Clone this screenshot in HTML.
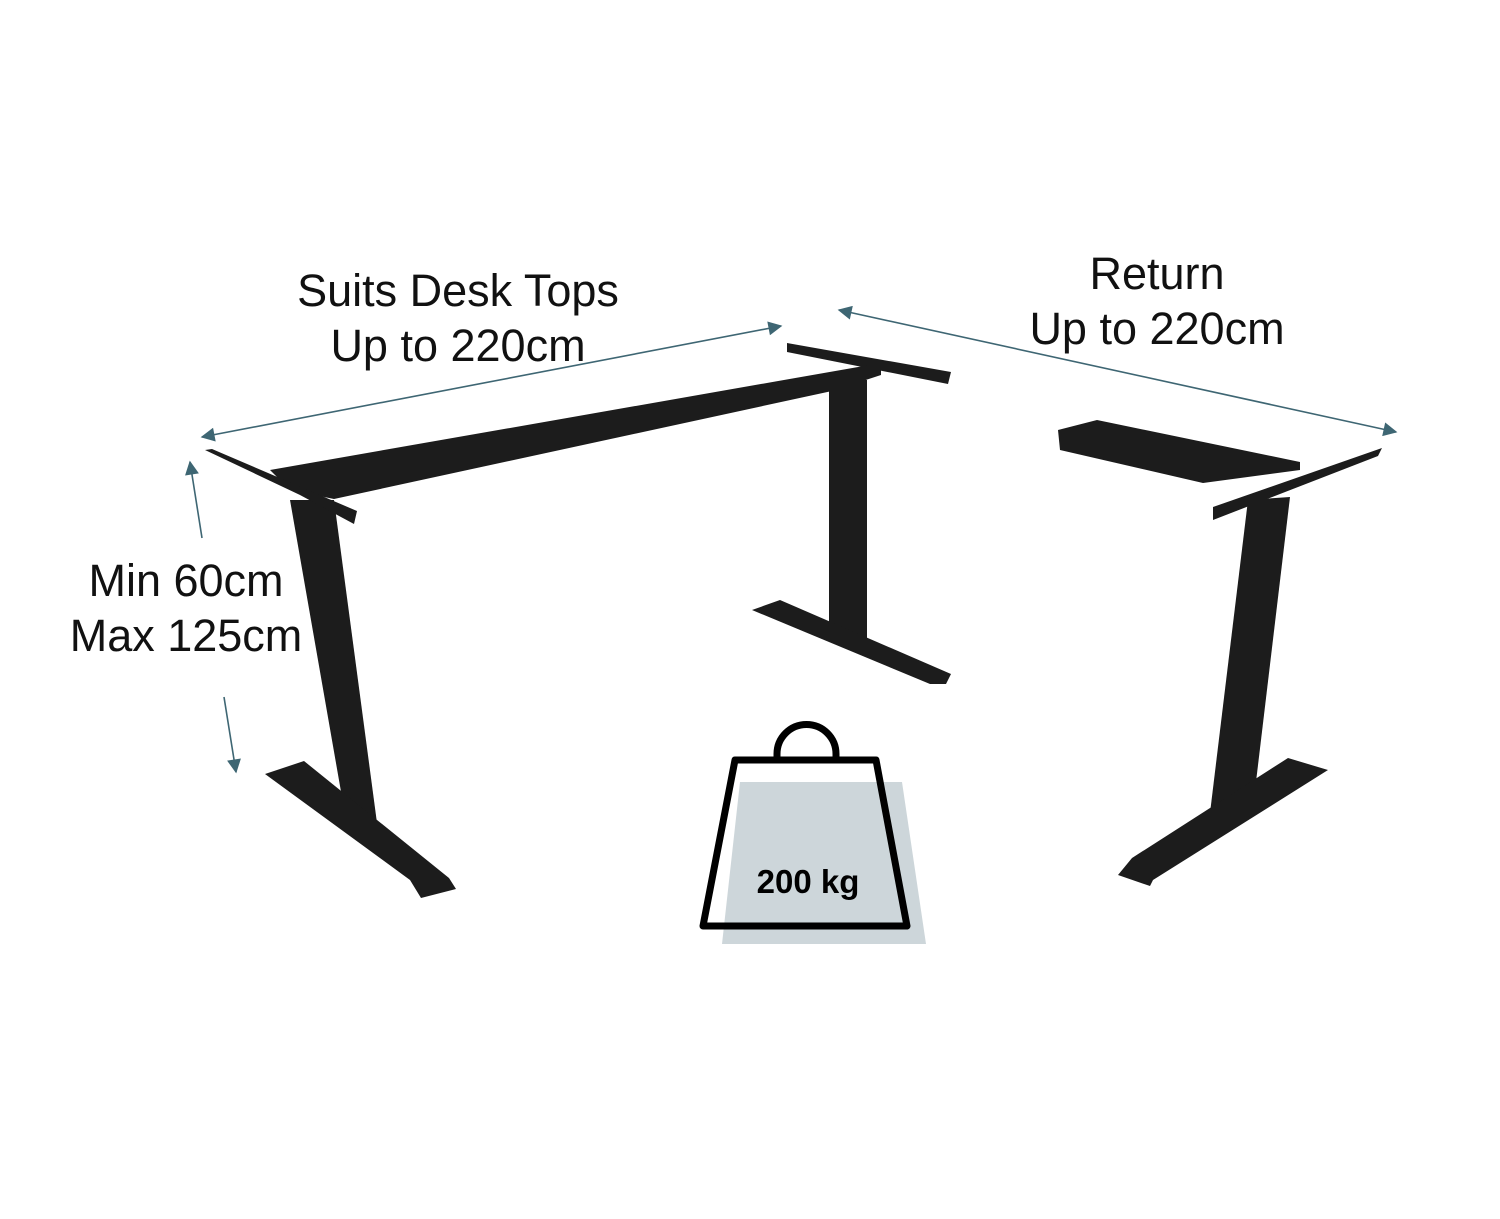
<!DOCTYPE html>
<html><head><meta charset="utf-8"><style>
html,body{margin:0;padding:0;background:#fff;}
svg{display:block;}
text{font-family:"Liberation Sans",sans-serif;}
</style></head><body>
<svg width="1500" height="1219" viewBox="0 0 1500 1219" xmlns="http://www.w3.org/2000/svg">
<defs>
<marker id="ah" viewBox="0 0 10 10" refX="9" refY="5" markerWidth="11" markerHeight="11" orient="auto-start-reverse" markerUnits="userSpaceOnUse">
<path d="M0,0 L10,5 L0,10 z" fill="#3e6673"/></marker>
<marker id="ah2" viewBox="0 0 10 10" refX="9" refY="5" markerWidth="16" markerHeight="14" orient="auto-start-reverse" markerUnits="userSpaceOnUse">
<path d="M0,0 L10,5 L0,10 z" fill="#3e6673"/></marker>
</defs>
<g stroke="#3e6673" stroke-width="1.6" fill="none">
<line x1="202" y1="437" x2="781" y2="326" marker-start="url(#ah2)" marker-end="url(#ah2)"/>
<line x1="839" y1="310" x2="1396" y2="432" marker-start="url(#ah2)" marker-end="url(#ah2)"/>
<line x1="202" y1="538" x2="190" y2="462" marker-end="url(#ah2)"/>
<line x1="224" y1="697" x2="236" y2="772" marker-end="url(#ah2)"/>
</g>
<g fill="#111" font-size="45" text-anchor="middle">
<text x="458" y="306">Suits Desk Tops</text>
<text x="458" y="361">Up to 220cm</text>
<text x="1157" y="289">Return</text>
<text x="1157" y="344">Up to 220cm</text>
<text x="186" y="596">Min 60cm</text>
<text x="186" y="651">Max 125cm</text>
</g>
<g fill="#1c1c1c">
<polygon points="787,343 951,372 948,384 787,352"/>
<polygon points="270,470 881,363 881,375 832,391 334,499 290,490"/>
<polygon points="829,378 867,380 867,641 829,636"/>
<polygon points="752,610 780,600 951,674 946,684 930,684"/>
<polygon points="290,500 334,500 377,823 347,826"/>
<polygon points="265,774 304,761 449,878 456,889 421,898 410,880"/>
<polygon points="205,450 212,449 357,511 354,524 300,495"/>
<polygon points="1058,430 1097,420 1300,462 1300,470 1203,483 1060,450"/>
<polygon points="1213,507 1382,448 1378,456 1213,520"/>
<polygon points="1248,500 1290,497 1253,807 1210,813"/>
<polygon points="1118,875 1132,858 1288,758 1328,770 1153,880 1150,886"/>
</g>
<polygon points="740,782 902,782 926,944 722,944" fill="#cdd6da"/>
<path d="M777,760 L777,754 A29.5,29.5 0 0 1 836,754 L836,760" fill="none" stroke="#000" stroke-width="7"/>
<polygon points="735,760 876,760 907,926 703,926" fill="none" stroke="#000" stroke-width="7" stroke-linejoin="round"/>
<text x="808" y="893" font-size="33" font-weight="bold" text-anchor="middle" fill="#000">200 kg</text>
</svg>
</body></html>
